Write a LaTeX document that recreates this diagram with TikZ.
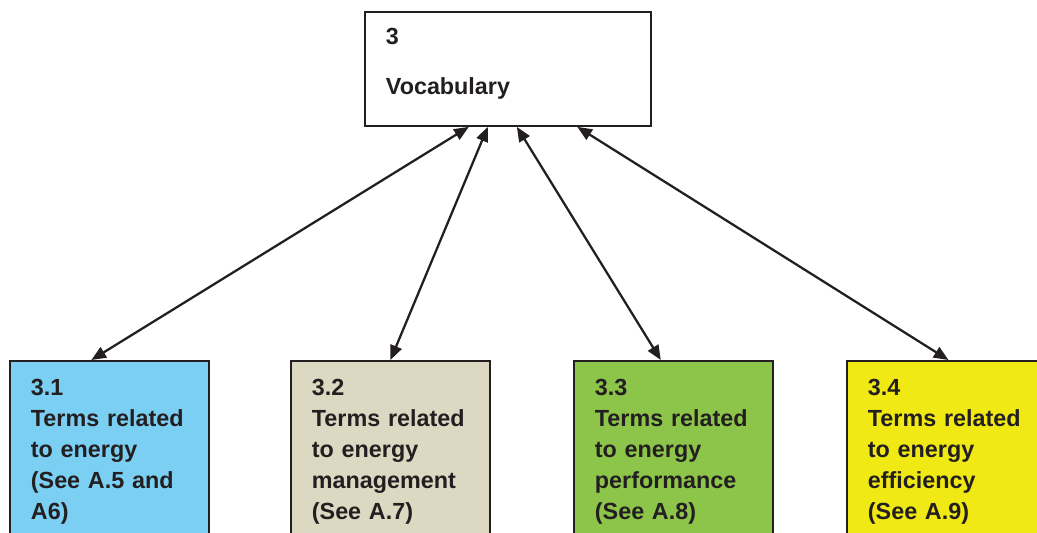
\documentclass[tikz,border=0pt]{standalone}
\usepackage{fontspec}
\setmainfont{Liberation Sans}
\usetikzlibrary{calc}
\usetikzlibrary{arrows.meta}
\definecolor{boxblue}{HTML}{7BCFF2}
\definecolor{boxsand}{HTML}{DCD8C1}
\definecolor{boxgreen}{HTML}{8DC54B}
\definecolor{boxyellow}{HTML}{F0E914}
\definecolor{ink}{HTML}{231F20}

\begin{document}
\begin{tikzpicture}[x=0.75pt,y=-0.75pt,
	box/.style={draw=ink,line width=1.4pt,anchor=north west,align=left,text=ink,
		font=\bfseries\fontsize{17.5pt}{23.25pt}\selectfont,inner xsep=15.75pt,inner ysep=0pt},
	topic/.style={box,text width=117.75pt,minimum width=149.25pt,text height=25.9pt,text depth=150pt},
	link/.style={draw=ink,line width=1.7pt,{Triangle[length=11pt,width=9pt]}-{Triangle[length=11pt,width=9pt]}}]
			\useasboundingbox (0,0) rectangle (1037,532);
			\clip (0,0) rectangle (1037,532);
			
			\node[box,fill=white,text width=183pt,text height=24.4pt,text depth=61.1pt] (voc) at (364,11) {3\\[14.25pt]Vocabulary};
			
			\node[topic,fill=boxblue] (t1) at (9,360) {3.1\\Terms related\\to energy\\(See A.5 and\\A6)};
			\node[topic,fill=boxsand] (t2) at (290,360) {3.2\\Terms related\\to energy\\management\\(See A.7)};
			\node[topic,fill=boxgreen] (t3) at (573,360) {3.3\\Terms related\\to energy\\performance\\(See A.8)};
			\node[topic,fill=boxyellow] (t4) at (846,360) {3.4\\Terms related\\to energy\\efficiency\\(See A.9)};
			
			\draw[link] ($(voc.south west)!0.364!(voc.south east)$) -- ($(t1.north west)!0.41!(t1.north east)$);
			\draw[link] ($(voc.south west)!0.43!(voc.south east)$) -- ($(t2.north west)!0.5!(t2.north east)$);
			\draw[link] ($(voc.south west)!0.531!(voc.south east)$) -- ($(t3.north west)!0.437!(t3.north east)$);
			\draw[link] ($(voc.south west)!0.741!(voc.south east)$) -- ($(t4.north west)!0.51!(t4.north east)$);
		\end{tikzpicture}
\end{document}
